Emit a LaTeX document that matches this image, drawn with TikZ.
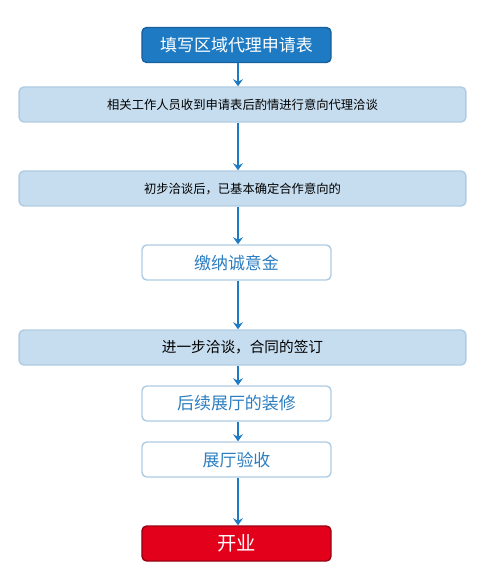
\documentclass[tikz,border=0pt]{standalone}
\usepackage{fontspec}
\setmainfont{Noto Sans CJK SC}
\usetikzlibrary{arrows.meta}
\definecolor{mainblue}{HTML}{1E7BC3}
\definecolor{darkblue}{HTML}{17609E}
\definecolor{paleblue}{HTML}{C6DDF0}
\definecolor{paleedge}{HTML}{B0CCE2}
\definecolor{textblue}{HTML}{2C7EC1}
\definecolor{startred}{HTML}{E2001A}
\definecolor{darkred}{HTML}{9A0012}
\begin{document}
\begin{tikzpicture}[x=0.03cm, y=-0.03cm,
  widebox/.style={draw=paleedge, fill=paleblue, line width=1.2pt, rounded corners=4pt,
    minimum width=13.4cm, minimum height=1.05cm, font=\fontsize{10.5}{12}\selectfont},
  whitebox/.style={draw=paleedge, fill=white, line width=1.2pt, rounded corners=4pt,
    minimum width=5.67cm, minimum height=1.05cm, text=textblue, font=\fontsize{14.5}{16}\selectfont},
  headbox/.style={draw=darkblue, fill=mainblue, line width=1.2pt, rounded corners=4pt,
    minimum width=5.67cm, minimum height=1.05cm, text=white, font=\fontsize{14.5}{16}\selectfont},
  endbox/.style={draw=darkred, fill=startred, line width=1.2pt, rounded corners=4pt,
    minimum width=5.67cm, minimum height=1.05cm, text=white, font=\fontsize{16.5}{18}\selectfont},
  flow/.style={draw=mainblue, line width=2.2pt, -{Stealth[length=6pt, width=8.5pt, inset=2pt]}}]
  \useasboundingbox (0,0) rectangle (480,573);
  \node[headbox]  (apply)   at (236.5,45)    {填写区域代理申请表};
  \node[widebox]  (contact) at (242.5,104.5) {相关工作人员收到申请表后酌情进行意向代理洽谈};
  \node[widebox]  (agree)   at (242.5,188.5) {初步洽谈后，已基本确定合作意向的};
  \node[whitebox] (deposit) at (236.5,262.5) {缴纳诚意金};
  \node[widebox, font=\fontsize{12.5}{14}\selectfont] (sign) at (242.5,347.5) {进一步洽谈，合同的签订};
  \node[whitebox] (decor)   at (236.5,403.5) {后续展厅的装修};
  \node[whitebox] (check)   at (236.5,459.5) {展厅验收};
  \node[endbox]   (open)    at (236.5,543.5) {开业};
  \draw[flow] (apply.south -| 238,0) -- (contact.north -| 238,0);
  \draw[flow] (contact.south -| 238,0) -- (agree.north -| 238,0);
  \draw[flow] (agree.south -| 238,0) -- (deposit.north -| 238,0);
  \draw[flow] (deposit.south -| 238,0) -- (sign.north -| 238,0);
  \draw[flow] (sign.south -| 238,0) -- (decor.north -| 238,0);
  \draw[flow] (decor.south -| 238,0) -- (check.north -| 238,0);
  \draw[flow] (check.south -| 238,0) -- (open.north -| 238,0);
\end{tikzpicture}
\end{document}
